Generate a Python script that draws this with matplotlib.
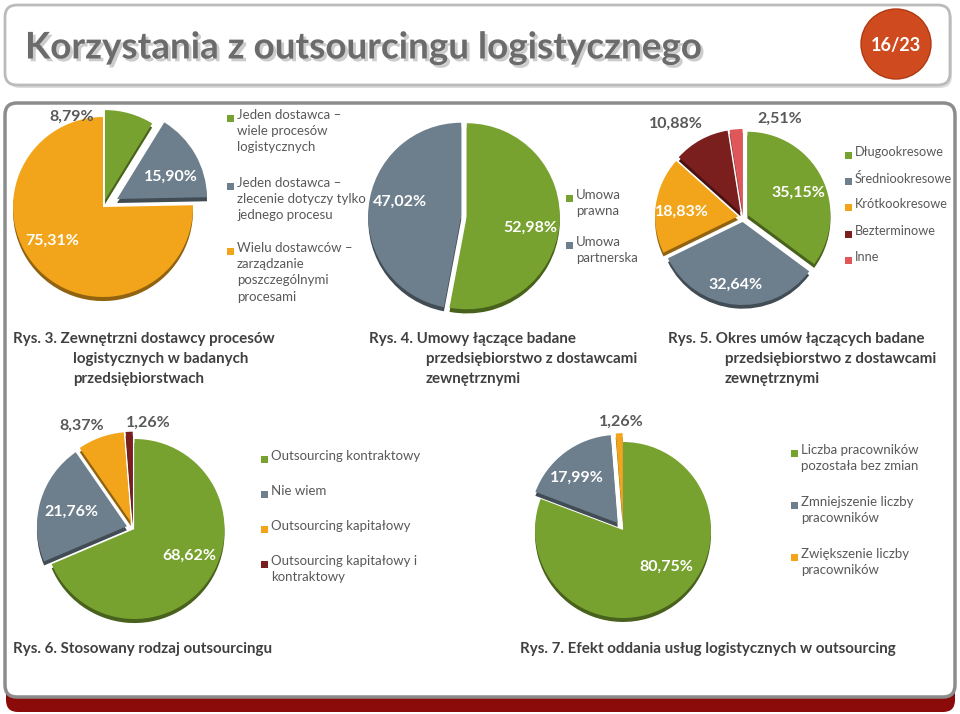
import matplotlib.pyplot as plt
import matplotlib.patches as mpatches
import matplotlib.patheffects as pe
from matplotlib.colors import to_rgb

W, H = 960, 714

# Kolory
GREEN = '#78A22F'
GRAY = '#6D7E8C'
ORANGE = '#F2A51A'
DRED = '#7A1E1E'
RED = '#E0575A'

# ---------- Dane ----------
rys3_labels = ['Jeden dostawca –\nwiele procesów\nlogistycznych',
               'Jeden dostawca –\nzlecenie dotyczy tylko\njednego procesu',
               'Wielu dostawców –\nzarządzanie\nposzczególnymi\nprocesami']
rys3_values = [8.79, 15.90, 75.31]
rys3_colors = [GREEN, GRAY, ORANGE]

rys4_labels = ['Umowa\nprawna', 'Umowa\npartnerska']
rys4_values = [52.98, 47.02]
rys4_colors = [GREEN, GRAY]

rys5_labels = ['Długookresowe', 'Średniookresowe', 'Krótkookresowe', 'Bezterminowe', 'Inne']
rys5_values = [35.15, 32.64, 18.83, 10.88, 2.51]
rys5_colors = [GREEN, GRAY, ORANGE, DRED, RED]

rys6_labels = ['Outsourcing kontraktowy', 'Nie wiem', 'Outsourcing kapitałowy',
               'Outsourcing kapitałowy i\nkontraktowy']
rys6_values = [68.62, 21.76, 8.37, 1.26]
rys6_colors = [GREEN, GRAY, ORANGE, DRED]

rys7_labels = ['Liczba pracowników\npozostała bez zmian', 'Zmniejszenie liczby\npracowników',
               'Zwiększenie liczby\npracowników']
rys7_values = [80.75, 17.99, 1.26]
rys7_colors = [GREEN, GRAY, ORANGE]

captions = [
    (13, 339, 73, ['Rys. 3. Zewnętrzni dostawcy procesów', 'logistycznych w badanych', 'przedsiębiorstwach']),
    (369, 339, 426, ['Rys. 4. Umowy łączące badane', 'przedsiębiorstwo z dostawcami', 'zewnętrznymi']),
    (668, 339, 725, ['Rys. 5. Okres umów łączących badane', 'przedsiębiorstwo z dostawcami', 'zewnętrznymi']),
    (13, 649, 13, ['Rys. 6. Stosowany rodzaj outsourcingu']),
    (520, 649, 520, ['Rys. 7. Efekt oddania usług logistycznych w outsourcing']),
]

TXT = '#595959'
FONT = ['Lato', 'DejaVu Sans']

fig = plt.figure(figsize=(W / 100, H / 100), dpi=100)
bg = fig.add_axes([0, 0, 1, 1])
bg.set_xlim(0, W)
bg.set_ylim(H, 0)
bg.axis('off')

# ---------- Tło slajdu ----------
bg.add_patch(mpatches.FancyBboxPatch((8, 8), 944, 80, boxstyle='round,pad=0,rounding_size=12',
                                     fc='#DDDDDD', ec='none', zorder=0))
bg.add_patch(mpatches.FancyBboxPatch((5, 5), 945, 80, boxstyle='round,pad=0,rounding_size=12',
                                     fc='white', ec='#BBBBBB', lw=2, zorder=1))
bg.text(25, 48, 'Korzystania z outsourcingu logistycznego', fontsize=26.5, fontweight='bold',
        color='#6B6B6B', va='center', ha='left', family=FONT, zorder=2,
        path_effects=[pe.SimplePatchShadow(offset=(2, -2), shadow_rgbFace='#AAAAAA', alpha=0.6), pe.Normal()])
bg.add_patch(mpatches.Ellipse((896, 44), 70, 70, fc='#CF4B1F', ec='#B03A12', lw=1, zorder=2))
bg.text(896, 45, '16/23', color='white', fontsize=13, fontweight='bold', ha='center', va='center',
        family=FONT, zorder=3)

bg.add_patch(mpatches.FancyBboxPatch((6, 110), 949, 602, boxstyle='round,pad=0,rounding_size=12',
                                     fc='#8B0A0A', ec='none', zorder=0))
bg.add_patch(mpatches.FancyBboxPatch((5, 103), 950, 594, boxstyle='round,pad=0,rounding_size=12',
                                     fc='white', ec='#8C8C8C', lw=2.5, zorder=1))


def darker(c, f=0.6):
    return tuple(v * f for v in to_rgb(c))


def draw_pie(cx, cy, r, values, colors, explode, label_xy, label_colors):
    s = 1.35 * r
    ax = fig.add_axes([(cx - s) / W, 1 - (cy + s) / H, 2 * s / W, 2 * s / H])
    # ciemniejsza kopia pod spodem = efekt 3D
    ax.pie(values, colors=[darker(c) for c in colors], explode=explode, startangle=90,
           counterclock=False, center=(0, -0.045), wedgeprops=dict(linewidth=0))
    ax.pie(values, colors=colors, explode=explode, startangle=90, counterclock=False,
           wedgeprops=dict(linewidth=0))
    ax.set_xlim(-1.35, 1.35)
    ax.set_ylim(-1.35, 1.35)
    ax.axis('off')
    for v, (lx, ly), lc in zip(values, label_xy, label_colors):
        ax.text(lx, ly, f'{v:.2f}%'.replace('.', ','), ha='center', va='center', fontsize=11.5,
                fontweight='bold', color=lc, family=FONT)
    return ax


def draw_legend(x, ys, labels, colors, fs=9.5):
    for y, lab, c in zip(ys, labels, colors):
        bg.add_patch(mpatches.Rectangle((x, y - 3.5), 7, 7, fc=c, ec='none', zorder=3))
        bg.text(x + 10, y - 9, lab, fontsize=fs, color=TXT, ha='left', va='top',
                family=FONT, linespacing=1.42, zorder=3)


# Rys. 3
draw_pie(103, 207, 90, rys3_values, rys3_colors, [0.08, 0.18, 0],
         [(-0.35, 1.0), (0.75, 0.34), (-0.57, -0.37)], [TXT, 'white', 'white'])
draw_legend(227, [118, 186, 251], rys3_labels, rys3_colors)

# Rys. 4
draw_pie(464, 216, 93, rys4_values, rys4_colors, [0.03, 0.03],
         [(0.71, -0.13), (-0.69, 0.15)], ['white', 'white'])
draw_legend(566, [198, 245], rys4_labels, rys4_colors)

# Rys. 5
draw_pie(743, 217, 83, rys5_values, rys5_colors, [0.06] * 5,
         [(0.67, 0.29), (-0.09, -0.82), (-0.74, 0.06), (-0.81, 1.12), (0.44, 1.18)],
         ['white', 'white', 'white', TXT, TXT])
draw_legend(845, [155, 181, 207, 234, 260], rys5_labels, rys5_colors, fs=9.2)

# Rys. 6
draw_pie(133, 528, 90, rys6_values, rys6_colors, [0.02, 0.07, 0.07, 0.07],
         [(0.63, -0.31), (-0.68, 0.18), (-0.57, 1.14), (0.17, 1.17)],
         ['white', 'white', TXT, TXT])
draw_legend(261, [459, 494, 529, 564], rys6_labels, rys6_colors)

# Rys. 7
draw_pie(623, 530, 88, rys7_values, rys7_colors, [0.0, 0.1, 0.1],
         [(0.49, -0.42), (-0.52, 0.59), (-0.02, 1.23)], ['white', 'white', TXT])
draw_legend(791, [453, 505, 557], rys7_labels, rys7_colors)

# Podpisy rysunków
for x0, y0, x1, lines in captions:
    for i, line in enumerate(lines):
        bg.text(x0 if i == 0 else x1, y0 + i * 20, line, fontsize=10.9, fontweight='bold',
                color='#404040', ha='left', va='center', family=FONT, zorder=3)

fig.savefig('out.png', dpi=100)
